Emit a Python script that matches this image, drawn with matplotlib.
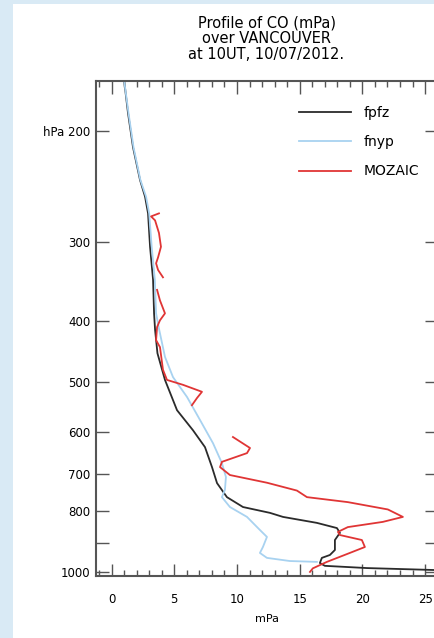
import numpy as np
import matplotlib
matplotlib.use('Agg')
import matplotlib.pyplot as plt
from matplotlib.ticker import FixedLocator, MultipleLocator, NullLocator
from matplotlib.patches import Rectangle

# fpfz profile (mPa, hPa)
fpfz_x = [1.00, 1.31, 1.71, 2.27, 2.67, 2.91, 3.07, 3.31, 3.39, 3.47, 3.66, 4.26, 5.22, 6.49,
          7.45, 8.01, 8.41, 9.20, 10.48, 12.63, 13.67, 16.37, 17.97, 18.21, 17.81, 17.81,
          17.41, 16.77, 16.61, 17.01, 20.36, 25.70]
fpfz_p = [166, 187, 212, 239, 254, 270, 305, 344, 389, 413, 450, 496, 554, 596,
          634, 682, 723, 761, 789, 806, 818, 836, 852, 867, 890, 923,
          940, 950, 968, 978, 986, 993]

# fnyp profile
fnyp_x = [1.00, 1.35, 1.75, 2.30, 2.75, 3.00, 3.20, 3.45, 3.55, 3.80, 4.26, 4.90, 6.02, 7.05,
          8.09, 8.80, 9.12, 9.04, 8.80, 9.44, 10.80, 11.83, 12.39, 12.07, 11.83, 12.39,
          14.22, 16.37]
fnyp_p = [166, 187, 212, 239, 254, 270, 305, 344, 389, 413, 456, 491, 528, 574,
          625, 672, 707, 741, 761, 789, 818, 858, 880, 913, 933, 950,
          961, 964]

# MOZAIC measurements (gaps as nan)
moz_x = [3.78, 3.15, 3.47, 3.78, 3.94, 3.71, 3.55, 3.71, 4.10, np.nan,
         3.63, 3.86, 4.26, 3.86, 3.63, 3.55, 3.86, 4.10, 4.42, 5.70, 7.21, 6.81, 6.41, np.nan,
         9.68, 11.04, 10.80, 8.80, 8.65, 9.44, 12.39, 14.78, 15.58, 18.84, 22.03, 23.23,
         21.63, 18.84, 18.05, 18.21, 19.96, 20.20, 19.00, 17.17, 16.05, 15.82]
moz_p = [270, 273, 277, 290, 305, 317, 324, 332, 341, np.nan,
         357, 371, 389, 399, 409, 429, 440, 478, 496, 505, 518, 530, 544, np.nan,
         611, 636, 648, 669, 682, 702, 722, 743, 761, 775, 796, 818,
         833, 849, 864, 874, 890, 913, 933, 964, 987, 1000]

yticks = [200, 300, 400, 500, 600, 700, 800, 900, 1000]
ylabels = ['hPa 200', '300', '400', '500', '600', '700', '800', '', '1000']

fig = plt.figure(figsize=(4.34, 6.38), dpi=100, facecolor='#d9eaf5')
fig.patches.append(Rectangle((13 / 434, 0), 1, 1 - 4 / 638, transform=fig.transFigure,
                             facecolor='white', edgecolor='none', zorder=-10))

ax = fig.add_axes([96 / 434, 1 - 576 / 638, 341 / 434, 495 / 638])
ax.plot(fpfz_x, fpfz_p, color='#2b2b2b', lw=1.3, label='fpfz')
ax.plot(fnyp_x, fnyp_p, color='#a8d2f0', lw=1.3, label='fnyp')
ax.plot(moz_x, moz_p, color='#e03535', lw=1.3, label='MOZAIC')

ax.set_yscale('log')
ax.set_ylim(1015, 166.5)
ax.set_xlim(-1.24, 25.95)
ax.yaxis.set_major_locator(FixedLocator(yticks))
ax.yaxis.set_minor_locator(NullLocator())
ax.set_yticklabels(ylabels)
ax.xaxis.set_major_locator(MultipleLocator(5))
ax.xaxis.set_minor_locator(MultipleLocator(1))

ax.tick_params(which='both', direction='in', top=True, right=True, color='#555555')
ax.tick_params(which='major', length=9, width=1)
ax.tick_params(which='minor', length=4.5, width=1)
ax.tick_params(axis='x', pad=12, labelsize=8.5)
ax.tick_params(axis='y', pad=4, labelsize=8.5)
for s in ax.spines.values():
    s.set_color('#555555')
    s.set_linewidth(1.5)

ax.set_xlabel('mPa', fontsize=8, labelpad=6)
ax.set_title('Profile of CO (mPa)\nover VANCOUVER\nat 10UT, 10/07/2012.',
             fontsize=10.5, linespacing=1.05, pad=16)

ax.legend(loc='upper left', bbox_to_anchor=(0.56, 0.975), frameon=False, fontsize=10,
          handlelength=3.7, handletextpad=0.9, labelspacing=1.1)

fig.savefig('out.png', dpi=100, facecolor=fig.get_facecolor())
